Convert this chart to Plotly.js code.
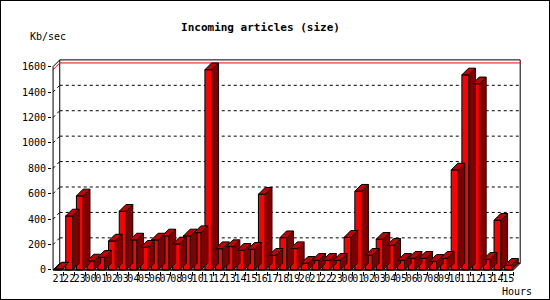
<!DOCTYPE html>
<html><head><meta charset="utf-8">
<script src="https://cdn.plot.ly/plotly-3.0.1.min.js"></script>
<style>
html,body{margin:0;padding:0;background:#fff}
#wrap{position:relative;width:550px;height:300px}
#chart{width:550px;height:300px}
#frame{position:absolute;left:0;top:0;width:550px;height:300px;box-sizing:border-box;border:1px solid #000;pointer-events:none}
</style>
</head><body>
<div id="wrap"><div id="chart"></div><div id="frame"></div></div>
<script>
// ---- data ----
const hours = ['21','22','23',
  '00','01','02','03','04','05','06','07','08','09','10','11','12','13','14','15','16','17','18','19','20','21','22','23',
  '00','01','02','03','04','05','06','07','08','09','10','11','12','13','14','15'];
const kbPerSec = [8, 425, 583,
  71, 100, 228, 462, 236, 179, 236, 268, 205, 268, 294, 1576, 168, 184, 155, 163, 596, 116, 254, 168, 53, 76, 76, 76,
  257, 620, 116, 242, 194, 76, 92, 92, 68, 92, 787, 1535, 1465, 84, 391, 37];
const yTickVals = [0, 200, 400, 600, 800, 1000, 1200, 1400, 1600];
const titleText = 'Incoming articles (size)';
const yUnitLabel = 'Kb/sec';
const xUnitLabel = 'Hours';

// ---- geometry / style ----
const W = 550, H = 300;
const BAR_W = 0.64, DX = 0.625, DY = 53;
const XMIN = -0.6, XMAX = 43.2, YMIN = -8, YMAX = 1660;
const L = 52.2, R = 28.9, T = 59.1, B = 29;
const PW = W - L - R, PH = H - T - B;
const FONT = 'DejaVu Sans Mono';
const n = hours.length;
const idx = hours.map((_, i) => i);
const x0 = -0.5, x1 = n - 0.5, yTop = yTickVals[yTickVals.length - 1];

// side and top faces of each bar, from the data values
const sx = [], sy = [], tx = [], ty = [];
kbPerSec.forEach((v, i) => {
  const xl = i - BAR_W / 2, xr = i + BAR_W / 2;
  sx.push(xr, xr + DX, xr + DX, xr, xr, null);
  sy.push(0, DY, v + DY, v, 0, null);
  tx.push(xl, xl + DX, xr + DX, xr, xl, null);
  ty.push(v, v + DY, v + DY, v, v, null);
});

const traces = [
  {type: 'scatter', mode: 'lines', x: sx, y: sy, fill: 'toself', fillcolor: '#800000',
   line: {color: '#000', width: 1}, hoverinfo: 'skip', showlegend: false, cliponaxis: false},
  {type: 'scatter', mode: 'lines', x: tx, y: ty, fill: 'toself', fillcolor: '#c40000',
   line: {color: '#000', width: 1}, hoverinfo: 'skip', showlegend: false, cliponaxis: false},
  {type: 'bar', x: idx, y: kbPerSec, width: BAR_W, marker: {color: '#ff0000', line: {color: '#000', width: 1}},
   hoverinfo: 'skip', showlegend: false}
];

const shapes = [];
const ln = (xa, ya, xb, yb, color, dash, layer) => shapes.push({type: 'line', xref: 'x', yref: 'y',
  x0: xa, y0: ya, x1: xb, y1: yb, line: {color: color, width: 1, dash: dash || 'solid'}, layer: layer || 'below'});
// back wall
shapes.push({type: 'rect', xref: 'x', yref: 'y', x0: x0 + DX, y0: DY, x1: x1 + DX, y1: yTop + DY,
  line: {color: '#000', width: 1}, fillcolor: '#fff', layer: 'below'});
// floor
shapes.push({type: 'path', xref: 'x', yref: 'y',
  path: `M${x0},0 L${x1},0 L${x1 + DX},${DY} L${x0 + DX},${DY} Z`,
  line: {color: '#000', width: 1}, fillcolor: '#8c8c8c', layer: 'below'});
// grid on back and left walls
yTickVals.slice(1, -1).forEach(v => {
  ln(x0 + DX, v + DY, x1 + DX, v + DY, '#000', '3px,3px');
  ln(x0, v, x0 + DX, v + DY, '#000', '3px,3px');
});
// top edge of left wall
ln(x0, yTop, x0 + DX, yTop + DY, '#000');
// max line
const vmax = Math.max(...kbPerSec);
ln(x0 + DX, vmax + DY, x1 + DX, vmax + DY, '#ff0000');
ln(x0, vmax, x0 + DX, vmax + DY, '#ff0000');
// front axes
ln(x0, 0, x0, yTop, '#000', 'solid', 'above');
ln(x0, 0, x1, 0, '#000', 'solid', 'above');

const px2x = p => (p - L) / PW, py2y = p => (H - B - p) / PH;

const layout = {
  width: W, height: H,
  margin: {l: L, r: R, t: T, b: B, pad: 0},
  paper_bgcolor: '#fff', plot_bgcolor: '#fff',
  showlegend: false,
  font: {family: FONT, size: 10, color: '#000'},
  title: {text: titleText, font: {family: FONT, size: 11, color: '#000', weight: 'bold'},
          x: 260.5 / W, xanchor: 'center', xref: 'container', y: 1 - 26.7 / H, yanchor: 'middle', yref: 'container'},
  xaxis: {range: [XMIN, XMAX], tickmode: 'array', tickvals: idx, ticktext: hours, tickangle: 0,
          ticks: '', showgrid: false, zeroline: false, showline: false, fixedrange: true,
          tickfont: {family: FONT, size: 10, color: '#000'},
          minor: {tickmode: 'array', tickvals: idx.map(i => i + 0.5), ticks: 'outside', ticklen: 4, tickcolor: '#000', tickwidth: 1, showgrid: false}},
  yaxis: {range: [YMIN, YMAX], tickmode: 'array', tickvals: yTickVals, ticks: 'outside', ticklen: 3,
          tickcolor: '#000', showgrid: false, zeroline: false, showline: false, fixedrange: true,
          tickfont: {family: FONT, size: 10, color: '#000'}},
  shapes: shapes,
  annotations: [
    {text: yUnitLabel, xref: 'paper', yref: 'paper', x: px2x(28), y: py2y(36.7), xanchor: 'left', yanchor: 'middle',
     showarrow: false, font: {family: FONT, size: 10, color: '#000'}},
    {text: xUnitLabel, xref: 'paper', yref: 'paper', x: px2x(534), y: py2y(291.7), xanchor: 'right', yanchor: 'middle',
     showarrow: false, font: {family: FONT, size: 10, color: '#000'}}
  ]
};

Plotly.newPlot('chart', traces, layout, {staticPlot: true, displayModeBar: false});
</script>
</body></html>
